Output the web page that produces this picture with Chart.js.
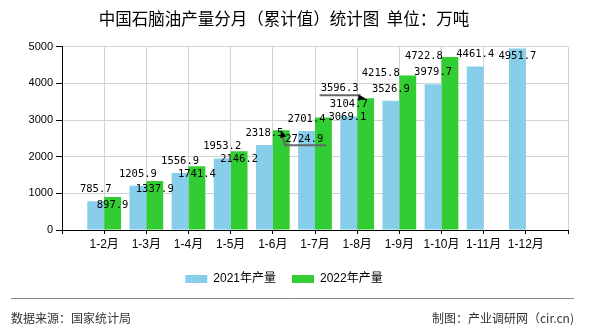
<!DOCTYPE html>
<html>
<head>
<meta charset="utf-8">
<script src="https://cdn.jsdelivr.net/npm/chart.js@4/dist/chart.umd.min.js"></script>
<style>
  html, body { margin: 0; padding: 0; background: #fff; }
  #wrap { position: relative; width: 590px; height: 330px; }
</style>
</head>
<body>
<div id="wrap"><canvas id="chart" width="590" height="330"></canvas></div>
<script>
// 中国石脑油产量分月（累计值）
const months = ['1-2月', '1-3月', '1-4月', '1-5月', '1-6月', '1-7月', '1-8月', '1-9月', '1-10月', '1-11月', '1-12月'];
const output2021 = [785.7, 1205.9, 1556.9, 1953.2, 2318.5, 2701.4, 3104.7, 3526.9, 3979.7, 4461.4, 4951.7];
const output2022 = [897.9, 1337.9, 1741.4, 2146.2, 2724.9, 3069.1, 3596.3, 4215.8, 4722.8, null, null];
const yTicks = [0, 1000, 2000, 3000, 4000, 5000];

const FONT = "'Liberation Sans', 'Noto Sans CJK SC', sans-serif";

// 轴两端各空一格
const labels = [''].concat(months, ['']);
const pad = arr => [null].concat(arr, [null]);

// 标签位置：2021 在柱顶上方，2022 在柱顶下方；个别标签避让
const labelStyle = { 0: { dy: -12 }, 1: { dy: 8 } };
const labelShift = {
  '0-10': { dx: 0, dy: 8 },
  '1-4': { dx: 23, dy: 9, leader: 'down' },
  '1-5': { dx: 24, dy: 0 },
  '1-6': { dx: -26, dy: -10, leader: 'left' },
  '1-7': { dx: -27, dy: -2 },
  '1-8': { dx: -26, dy: -1 }
};

const valueLabels = {
  id: 'valueLabels',
  afterDatasetsDraw(chart) {
    const ctx = chart.ctx;
    ctx.save();
    chart.data.datasets.forEach((ds, di) => {
      const meta = chart.getDatasetMeta(di);
      meta.data.forEach((bar, i) => {
        const v = ds.data[i];
        if (v == null) return;
        const key = di + '-' + (i - 1);
        const s = labelShift[key] || { dx: 0, dy: labelStyle[di].dy };
        const x = bar.x + s.dx, y = bar.y + s.dy;
        if (s.leader) {
          ctx.strokeStyle = '#666';
          ctx.fillStyle = '#000';
          ctx.lineWidth = 2;
          ctx.beginPath();
          let tipFrom;
          if (s.leader === 'down') {
            ctx.moveTo(bar.x + 45, bar.y + 15);
            ctx.lineTo(bar.x + 4, bar.y + 15);
            ctx.lineTo(bar.x, bar.y + 2);
            tipFrom = [bar.x + 4, bar.y + 15];
          } else {
            ctx.moveTo(bar.x - 46, bar.y - 3);
            ctx.lineTo(bar.x - 5, bar.y - 3);
            tipFrom = [bar.x - 46, bar.y - 3];
          }
          ctx.stroke();
          // 箭头
          const ang = Math.atan2(bar.y - tipFrom[1], bar.x - tipFrom[0]);
          ctx.beginPath();
          ctx.moveTo(bar.x, bar.y);
          ctx.lineTo(bar.x - 8 * Math.cos(ang - 0.4), bar.y - 8 * Math.sin(ang - 0.4));
          ctx.lineTo(bar.x - 8 * Math.cos(ang + 0.4), bar.y - 8 * Math.sin(ang + 0.4));
          ctx.closePath();
          ctx.fill();
        }
        ctx.fillStyle = '#000';
        ctx.font = "10.5px 'DejaVu Sans Mono', monospace";
        ctx.textAlign = 'center';
        ctx.textBaseline = 'middle';
        ctx.fillText(v.toFixed(1), x, y);
      });
    });
    ctx.restore();
  }
};

// 底部分隔线和来源说明
const footer = {
  id: 'footer',
  afterDraw(chart) {
    const ctx = chart.ctx;
    ctx.save();
    ctx.strokeStyle = '#888';
    ctx.lineWidth = 1;
    ctx.beginPath();
    ctx.moveTo(11, 298.5);
    ctx.lineTo(574, 298.5);
    ctx.stroke();
    ctx.fillStyle = '#333';
    ctx.font = "12px 'Noto Sans CJK SC', sans-serif";
    ctx.textBaseline = 'middle';
    ctx.textAlign = 'left';
    ctx.fillText('数据来源：国家统计局', 11, 318);
    ctx.textAlign = 'right';
    ctx.fillText('制图：产业调研网（cir.cn)', 574, 318);
    ctx.restore();
  }
};

new Chart(document.getElementById('chart'), {
  type: 'bar',
  data: {
    labels: labels,
    datasets: [
      {
        label: '2021年产量',
        data: pad(output2021),
        backgroundColor: '#87CEEB',
        categoryPercentage: 0.8,
        barPercentage: 1.0
      },
      {
        label: '2022年产量',
        data: pad(output2022),
        backgroundColor: '#32CD32',
        categoryPercentage: 0.8,
        barPercentage: 1.0
      }
    ]
  },
  options: {
    responsive: false,
    animation: false,
    layout: { padding: { left: 0, right: 22, top: 0, bottom: 35 } },
    plugins: {
      title: {
        display: true,
        text: '中国石脑油产量分月（累计值）统计图  单位：万吨',
        color: '#000',
        font: { family: "'Noto Sans CJK SC', sans-serif", size: 16.5, weight: 'normal', lineHeight: 1.2 },
        padding: { top: 9, bottom: 18 }
      },
      legend: {
        display: true,
        position: 'bottom',
        labels: {
          boxWidth: 22,
          boxHeight: 8,
          padding: 16,
          color: '#000',
          font: { family: FONT, size: 12 }
        }
      },
      tooltip: { enabled: false }
    },
    scales: {
      x: {
        offset: false,
        grid: { offset: false, color: '#d3d3d3', lineWidth: 1, tickColor: '#000', tickLength: 4 },
        border: { color: '#000', width: 1 },
        ticks: {
          color: '#000',
          padding: 3,
          autoSkip: false,
          maxRotation: 0,
          font: { family: FONT, size: 12 }
        },
        afterFit(scale) { scale.height = 27; }
      },
      y: {
        min: 0,
        max: 5000,
        afterBuildTicks(scale) { scale.ticks = yTicks.map(v => ({ value: v })); },
        grid: { color: '#d3d3d3', tickColor: '#000', tickLength: 6 },
        border: { color: '#000', width: 1 },
        ticks: {
          color: '#000',
          padding: 3,
          font: { family: FONT, size: 11 },
          callback: v => String(v)
        },
        afterFit(scale) { scale.width = 62; }
      }
    }
  },
  plugins: [valueLabels, footer]
});
</script>
</body>
</html>
